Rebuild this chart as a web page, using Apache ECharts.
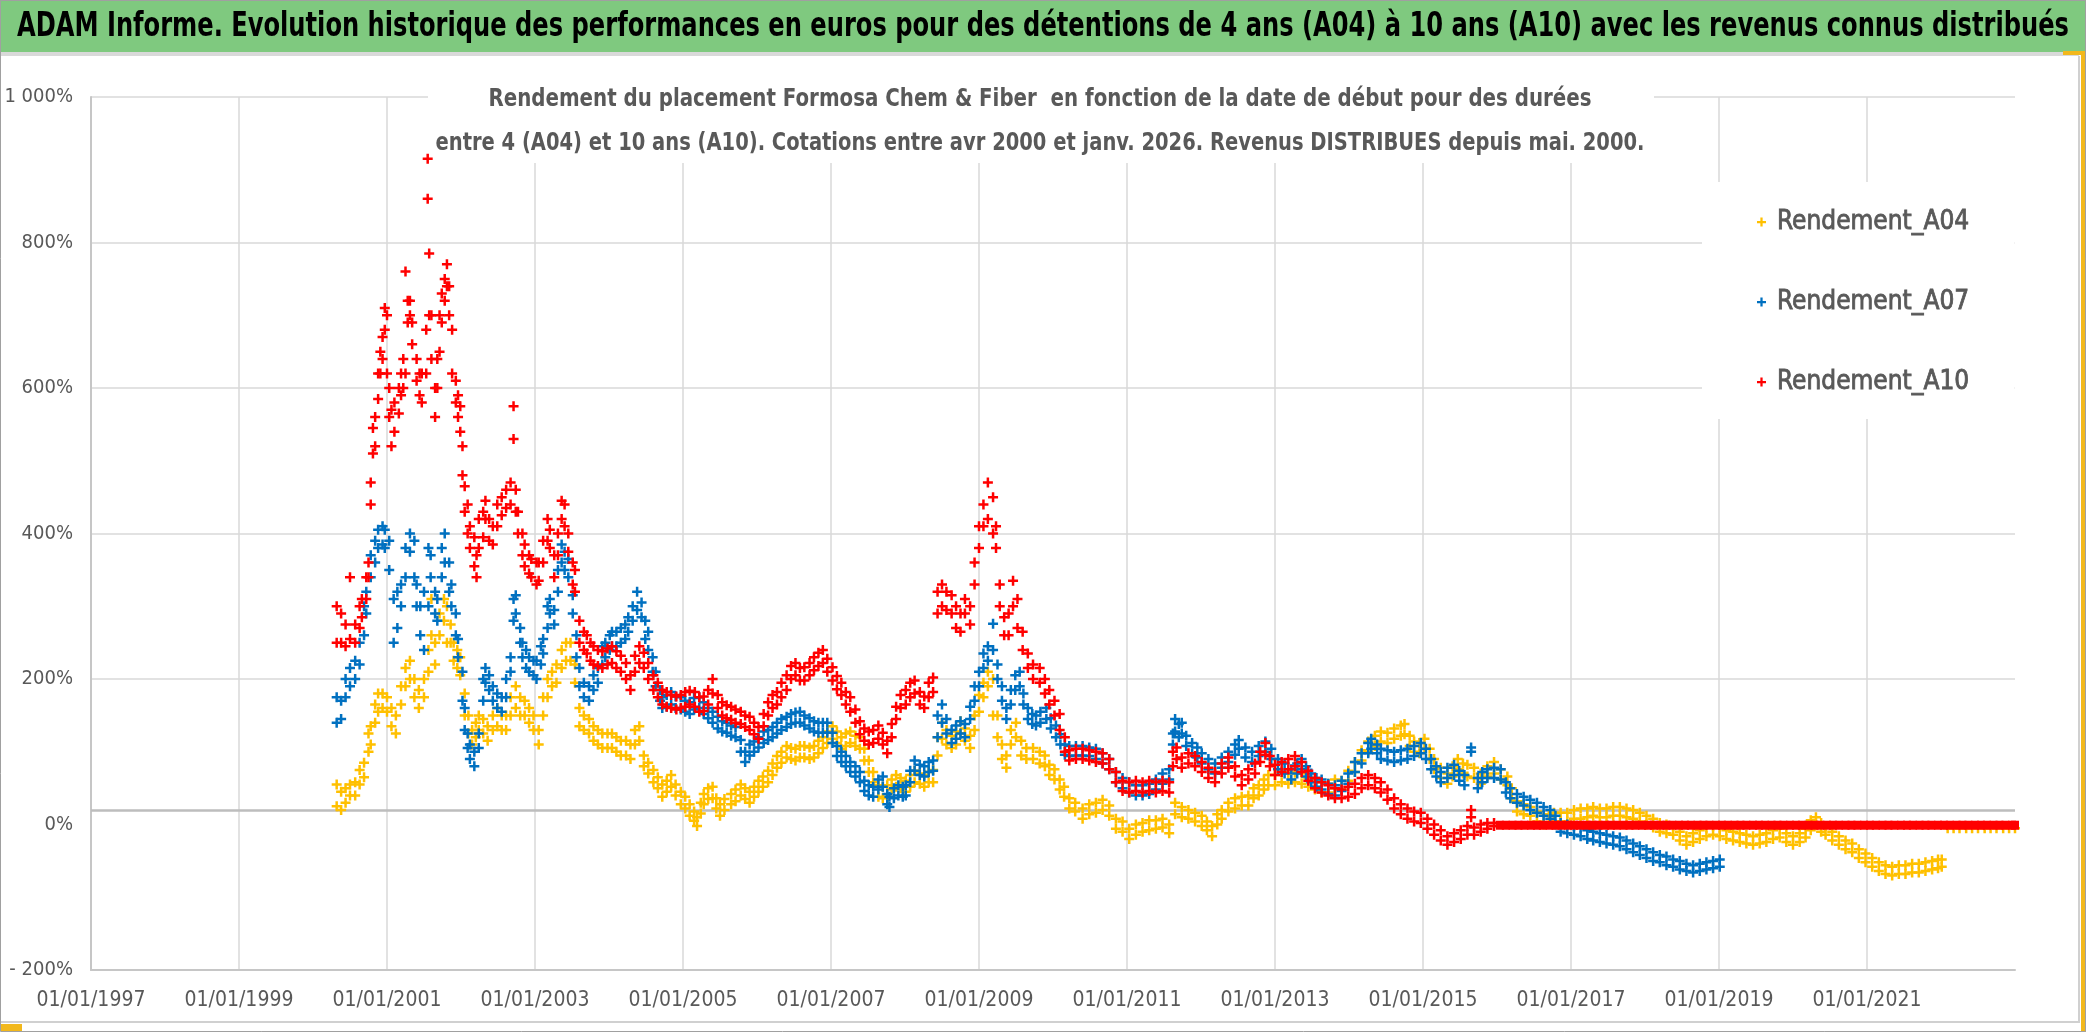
<!DOCTYPE html>
<html><head><meta charset="utf-8">
<script src="https://cdn.jsdelivr.net/npm/echarts@6/dist/echarts.min.js"></script>
<style>html,body{margin:0;padding:0;background:#fff;overflow:hidden}#chart{width:2086px;height:1032px}</style>
</head><body><div id="chart"></div>
<script>
// ---------- DATA ----------
const titleText = "ADAM Informe. Evolution historique des performances en euros pour des détentions de 4 ans (A04) à 10 ans (A10) avec les revenus connus distribués";
const subtitleLines = [
  "Rendement du placement Formosa Chem & Fiber  en fonction de la date de début pour des durées",
  "entre 4 (A04) et 10 ans (A10). Cotations entre avr 2000 et janv. 2026. Revenus DISTRIBUES depuis mai. 2000."
];
const seriesNames = ['Rendement_A04', 'Rendement_A07', 'Rendement_A10'];
const yearTicks = [1997, 2023, 2];      // x axis: min, max, step (years)
const pctTicks = [-200, 1000, 200];     // y axis: min, max, step (%)

// [year, low %, high %] : lower and upper edge of each point cloud
const a04Points = [
[2000.32,25,55],[2000.38,20,45],[2000.44,30,50],[2000.50,40,55],[2000.57,40,58],[2000.63,55,75],[2000.69,65,85],[2000.75,100,125],[2000.78,110,135],[2000.84,140,165],[2000.88,155,180],[2000.94,160,180],[2001.00,155,175],[2001.06,135,160],[2001.12,125,150],[2001.19,165,190],[2001.25,190,215],[2001.31,200,225],[2001.37,175,200],[2001.43,160,185],[2001.50,175,200],[2001.56,210,240],[2001.60,260,310],[2001.65,220,250],[2001.71,260,290],[2001.77,280,310],[2001.81,250,300],[2001.86,250,275],[2001.90,225,250],[2001.95,215,240],[2001.99,205,230],
[2002.05,150,180],[2002.10,125,150],[2002.15,110,130],[2002.20,120,140],[2002.24,130,150],[2002.30,125,145],[2002.36,115,135],[2002.43,130,150],[2002.49,135,160],[2002.55,130,150],[2002.61,130,150],[2002.67,150,175],[2002.74,160,190],[2002.80,150,175],[2002.86,150,170],[2002.92,140,160],[2002.98,130,150],
[2003.05,110,130],[2003.11,150,175],[2003.17,175,200],[2003.23,190,210],[2003.29,195,220],[2003.36,215,240],[2003.42,225,250],[2003.48,225,250],[2003.54,195,220],[2003.60,135,160],[2003.66,130,150],[2003.73,125,145],[2003.79,115,135],[2003.85,110,130],[2003.91,105,125],[2003.98,105,125],
[2004.04,105,125],[2004.10,100,120],[2004.16,95,115],[2004.23,95,115],[2004.29,90,110],[2004.35,110,130],[2004.41,115,135],[2004.47,80,95],[2004.53,70,85],[2004.60,58,75],[2004.66,50,65],[2004.72,38,55],[2004.78,45,60],[2004.84,52,68],[2004.90,40,55],[2004.97,28,45],
[2005.03,22,38],[2005.09,12,28],[2005.15,5,18],[2005.19,-2,10],[2005.24,15,30],[2005.28,28,42],[2005.34,35,50],[2005.40,36,52],[2005.45,22,36],[2005.50,12,28],[2005.56,20,35],[2005.65,28,42],[2005.71,32,48],[2005.78,40,55],[2005.84,35,50],[2005.90,30,45],[2005.96,38,52],
[2006.02,45,60],[2006.08,52,66],[2006.15,58,74],[2006.21,68,84],[2006.27,78,94],[2006.33,85,100],[2006.40,92,108],[2006.46,90,105],[2006.52,88,104],[2006.58,92,108],[2006.64,92,108],[2006.71,90,106],[2006.77,92,108],[2006.83,98,115],[2006.89,105,120],[2006.95,112,128],
[2007.02,118,135],[2007.08,112,128],[2007.14,104,120],[2007.20,108,125],[2007.26,112,128],[2007.33,108,122],[2007.39,104,120],[2007.45,88,104],[2007.51,72,88],[2007.57,58,72],[2007.64,38,54],[2007.70,36,52],[2007.76,38,54],[2007.82,48,62],[2007.88,52,68],[2007.94,50,64],
[2008.01,45,60],[2008.07,52,68],[2008.13,58,74],[2008.20,56,70],[2008.26,52,68],[2008.32,58,72],[2008.38,58,75],[2008.44,95,120],[2008.50,118,140],[2008.56,110,130],[2008.63,105,122],[2008.69,110,128],[2008.75,125,142],[2008.81,115,132],[2008.88,105,122],[2008.94,130,150],
[2009.00,155,178],[2009.06,175,195],[2009.12,190,210],[2009.19,150,200],[2009.25,120,150],[2009.31,90,110],[2009.37,78,95],[2009.43,110,130],[2009.50,120,140],[2009.57,95,115],[2009.64,90,105],[2009.73,90,105],[2009.82,84,100],[2009.89,80,95],[2009.95,68,82],
[2010.02,62,76],[2010.09,48,62],[2010.15,38,52],[2010.22,22,36],[2010.30,18,30],[2010.40,8,22],[2010.49,14,28],[2010.58,16,30],[2010.67,20,34],[2010.76,12,26],[2010.85,-6,8],[2010.94,-10,4],
[2011.03,-20,-6],[2011.12,-14,0],[2011.21,-10,2],[2011.30,-8,6],[2011.39,-6,6],[2011.48,-4,8],[2011.57,-12,0],[2011.65,14,30],[2011.74,10,24],[2011.83,8,20],[2011.92,4,16],
[2012.01,-2,12],[2012.08,-8,4],[2012.15,-16,-2],[2012.22,0,14],[2012.28,8,20],[2012.37,18,30],[2012.46,22,36],[2012.55,26,38],[2012.64,26,40],[2012.71,36,50],[2012.78,40,54],[2012.85,48,62],[2012.91,54,68],
[2013.00,54,68],[2013.09,58,72],[2013.18,56,70],[2013.27,58,72],[2013.36,56,70],[2013.45,52,64],[2013.54,48,62],[2013.63,44,58],[2013.72,44,56],[2013.81,50,62],[2013.90,48,60],[2013.99,60,74],
[2014.08,72,86],[2014.17,88,102],[2014.26,100,114],[2014.35,108,122],[2014.43,114,128],[2014.52,112,126],[2014.61,118,132],[2014.70,122,136],[2014.75,124,138],[2014.82,108,122],[2014.88,100,114],[2014.95,98,112],
[2015.02,104,118],[2015.09,90,104],[2015.15,76,90],[2015.24,64,78],[2015.33,56,70],[2015.40,66,80],[2015.47,76,90],[2015.54,70,84],[2015.60,66,82],[2015.69,64,78],[2015.78,56,70],[2015.87,66,80],[2015.96,70,86],
[2016.05,62,76],[2016.14,54,66],[2016.20,36,50],[2016.27,18,32],[2016.36,14,28],[2016.45,12,24],[2016.54,4,18],[2016.63,0,12],[2016.70,2,14],[2016.77,4,16],[2016.86,4,16],[2016.95,4,16],
[2017.04,8,20],[2017.13,8,22],[2017.22,10,22],[2017.30,12,24],[2017.39,10,22],[2017.48,10,22],[2017.57,12,24],[2017.66,12,24],[2017.75,10,22],[2017.84,8,20],[2017.93,4,16],
[2018.02,0,12],[2018.11,-4,8],[2018.20,-10,2],[2018.29,-12,0],[2018.38,-14,-2],[2018.47,-22,-10],[2018.56,-28,-16],[2018.65,-24,-12],[2018.74,-20,-8],[2018.83,-16,-4],[2018.92,-14,-2],
[2019.01,-16,-4],[2019.10,-20,-8],[2019.19,-22,-10],[2019.28,-24,-12],[2019.37,-26,-14],[2019.46,-28,-16],[2019.55,-26,-14],[2019.64,-24,-12],[2019.73,-20,-8],[2019.82,-18,-6],[2019.91,-24,-12],
[2020.00,-28,-16],[2020.09,-24,-12],[2020.17,-18,-6],[2020.24,-8,6],[2020.31,0,10],[2020.38,-10,2],[2020.44,-14,-2],[2020.53,-22,-10],[2020.62,-28,-16],[2020.71,-34,-22],[2020.80,-38,-26],[2020.89,-46,-34],[2020.98,-52,-40],
[2021.07,-58,-46],[2021.16,-64,-52],[2021.25,-68,-56],[2021.34,-70,-58],[2021.43,-68,-56],[2021.52,-68,-56],[2021.61,-66,-54],[2021.70,-66,-54],[2021.79,-64,-52],[2021.88,-62,-50],[2021.96,-60,-48],[2022.01,-58,-48]
];
const a04Tail = [[2022.09,-5],[2022.17,-5],[2022.25,-5],[2022.34,-5],[2022.42,-5],[2022.50,-5],[2022.59,-5],[2022.67,-5],[2022.75,-5],[2022.84,-5],[2022.92,-5],[2023.00,-5]];

const a07Points = [
[2000.32,140,175],[2000.38,145,170],[2000.44,175,200],[2000.50,190,215],[2000.57,200,225],[2000.63,220,250],[2000.69,260,300],[2000.72,290,320],[2000.78,340,370],[2000.84,360,390],[2000.88,380,405],[2000.94,385,410],[2000.97,380,405],
[2001.03,350,390],[2001.09,250,310],[2001.14,270,320],[2001.19,300,330],[2001.25,340,380],[2001.31,375,400],[2001.37,340,390],[2001.40,300,330],[2001.45,260,300],[2001.50,240,320],[2001.56,300,380],[2001.59,340,370],[2001.65,290,320],[2001.68,280,310],[2001.74,340,380],[2001.78,360,400],[2001.84,320,360],[2001.87,300,330],[2001.93,260,290],[2001.96,230,255],
[2002.02,170,210],[2002.05,130,160],[2002.09,105,125],[2002.12,90,110],[2002.18,80,100],[2002.24,105,125],[2002.30,170,200],[2002.33,195,215],[2002.38,185,205],[2002.43,170,190],[2002.49,160,180],[2002.55,155,175],[2002.61,175,200],[2002.67,210,230],[2002.71,280,310],[2002.74,290,315],[2002.80,250,270],[2002.83,230,250],[2002.88,215,240],[2002.92,210,230],[2002.98,205,225],
[2003.02,200,225],[2003.08,220,245],[2003.11,235,255],[2003.17,270,300],[2003.20,290,310],[2003.26,275,295],[2003.31,320,350],[2003.36,360,385],[2003.40,350,375],[2003.45,340,365],[2003.51,290,315],[2003.56,230,260],[2003.60,190,215],[2003.66,175,195],[2003.73,170,190],[2003.79,185,205],[2003.85,195,215],[2003.91,220,245],[2003.95,230,250],
[2004.01,240,260],[2004.04,245,265],[2004.10,245,265],[2004.16,250,270],[2004.22,255,275],[2004.26,265,285],[2004.32,280,300],[2004.38,295,320],[2004.44,285,305],[2004.49,255,280],[2004.53,240,265],[2004.59,210,230],[2004.63,190,210],[2004.69,170,185],[2004.72,160,175],[2004.78,162,178],[2004.84,165,182],[2004.90,160,176],[2004.97,158,175],
[2005.03,155,170],[2005.09,152,168],[2005.15,158,174],[2005.22,160,175],[2005.28,152,168],[2005.34,146,160],[2005.40,140,155],[2005.47,132,148],[2005.53,128,142],[2005.59,126,140],[2005.65,122,136],[2005.71,120,134],[2005.78,100,116],[2005.84,86,100],[2005.90,95,110],[2005.96,100,114],
[2006.02,106,120],[2006.09,112,128],[2006.15,116,130],[2006.21,120,134],[2006.27,125,140],[2006.33,130,145],[2006.40,134,148],[2006.46,138,152],[2006.52,140,154],[2006.58,140,155],[2006.64,136,150],[2006.71,132,146],[2006.77,128,142],[2006.83,126,140],[2006.89,126,140],[2006.95,126,140],
[2007.02,112,126],[2007.08,94,108],[2007.14,86,100],[2007.20,80,94],[2007.26,72,86],[2007.33,66,80],[2007.39,58,72],[2007.45,46,60],[2007.51,40,54],[2007.57,38,52],[2007.64,48,62],[2007.70,52,66],[2007.76,28,42],[2007.79,24,38],[2007.85,36,50],[2007.91,40,54],[2007.97,38,52],
[2008.01,40,54],[2008.07,58,74],[2008.13,74,88],[2008.20,68,82],[2008.26,66,80],[2008.32,72,86],[2008.38,74,88],[2008.44,120,150],[2008.50,140,165],[2008.56,125,145],[2008.63,112,130],[2008.69,118,136],[2008.75,125,142],[2008.81,120,138],[2008.88,145,162],[2008.94,170,190],
[2009.00,190,210],[2009.06,215,235],[2009.12,225,245],[2009.19,240,276],[2009.25,200,220],[2009.31,170,190],[2009.37,145,160],[2009.43,165,185],[2009.49,185,205],[2009.55,190,210],[2009.60,165,180],[2009.66,145,160],[2009.72,138,152],[2009.77,136,150],[2009.83,140,155],[2009.91,145,160],[2009.97,132,146],
[2010.04,120,136],[2010.10,110,124],[2010.16,96,110],[2010.22,94,108],[2010.31,95,108],[2010.40,95,108],[2010.49,94,106],[2010.58,90,104],[2010.67,84,98],[2010.76,76,90],[2010.85,58,72],[2010.94,50,64],
[2011.03,44,58],[2011.12,40,54],[2011.21,40,54],[2011.30,42,56],[2011.39,48,62],[2011.48,56,70],[2011.57,62,76],[2011.62,110,125],[2011.65,128,145],[2011.70,120,138],[2011.74,125,140],[2011.80,108,122],[2011.88,98,112],[2011.95,92,106],
[2012.01,84,98],[2012.10,76,90],[2012.19,70,84],[2012.28,78,92],[2012.37,86,100],[2012.46,96,110],[2012.51,104,116],[2012.60,92,106],[2012.69,86,100],[2012.78,94,108],[2012.87,100,114],[2012.95,90,104],
[2013.04,76,90],[2013.13,70,84],[2013.22,62,76],[2013.30,70,84],[2013.36,76,90],[2013.42,66,80],[2013.49,58,70],[2013.56,52,64],[2013.63,48,62],[2013.72,42,56],[2013.81,40,54],[2013.90,46,60],[2013.99,56,70],
[2014.08,72,86],[2014.17,84,98],[2014.26,98,112],[2014.30,104,118],[2014.38,98,110],[2014.43,90,104],[2014.52,88,102],[2014.61,86,100],[2014.70,88,102],[2014.79,90,104],[2014.88,94,108],[2014.97,98,112],
[2015.04,90,104],[2015.11,76,90],[2015.18,66,80],[2015.24,58,72],[2015.33,64,78],[2015.42,68,82],[2015.49,60,74],[2015.56,54,68],[2015.65,100,106],[2015.74,50,64],[2015.80,58,72],[2015.87,64,76],[2015.96,64,78],
[2016.05,62,76],[2016.12,44,58],[2016.18,36,50],[2016.27,30,42],[2016.36,26,38],[2016.45,20,34],[2016.54,16,30],[2016.63,12,24],[2016.72,8,20],[2016.79,0,12],[2016.86,-10,2],[2016.95,-12,0],
[2017.04,-14,-2],[2017.13,-16,-4],[2017.22,-20,-8],[2017.30,-22,-10],[2017.39,-24,-12],[2017.48,-26,-14],[2017.57,-28,-16],[2017.66,-30,-18],[2017.75,-34,-22],[2017.84,-38,-26],[2017.93,-42,-30],
[2018.02,-46,-34],[2018.11,-50,-38],[2018.20,-52,-42],[2018.29,-56,-44],[2018.38,-58,-48],[2018.47,-62,-50],[2018.56,-64,-54],[2018.65,-66,-56],[2018.74,-64,-54],[2018.83,-62,-52],[2018.92,-60,-50],[2019.01,-58,-48]
];

const a10Points = [
[2000.32,250,300],[2000.38,250,290],[2000.44,245,275],[2000.50,255,340],[2000.57,250,275],[2000.63,270,300],[2000.66,285,310],[2000.72,310,340],[2000.75,340,360],[2000.78,440,470],[2000.81,510,545],[2000.84,520,560],[2000.88,585,620],[2000.91,620,650],[2000.94,640,670],[2000.97,680,710],
[2001.00,620,700],[2001.03,560,600],[2001.06,520,570],[2001.10,540,580],[2001.16,565,600],[2001.19,590,620],[2001.22,600,640],[2001.25,620,760],[2001.28,690,720],[2001.31,700,720],[2001.34,660,690],[2001.40,610,640],[2001.44,590,620],[2001.47,580,620],[2001.53,620,680],[2001.55,860,915],[2001.57,700,785],[2001.60,640,700],[2001.65,560,600],[2001.68,600,640],[2001.71,650,700],[2001.74,690,730],[2001.78,720,750],[2001.81,740,770],[2001.84,700,740],[2001.88,620,680],[2001.93,580,610],[2001.96,560,590],[2001.99,540,575],
[2002.02,480,520],[2002.05,430,465],[2002.09,400,440],[2002.12,380,410],[2002.18,355,395],[2002.21,340,370],[2002.24,380,420],[2002.30,395,430],[2002.33,420,445],[2002.38,390,420],[2002.43,385,410],[2002.49,410,440],[2002.55,425,450],[2002.61,435,460],[2002.67,440,470],[2002.71,530,575],[2002.74,430,460],[2002.77,400,430],[2002.83,370,400],[2002.86,355,385],[2002.92,345,370],[2002.95,340,365],
[2003.02,330,360],[2003.05,335,360],[2003.11,360,390],[2003.17,390,420],[2003.20,380,405],[2003.26,340,370],[2003.31,370,400],[2003.36,420,445],[2003.40,410,440],[2003.45,375,400],[2003.51,330,360],[2003.54,320,350],[2003.60,250,280],[2003.66,240,265],[2003.70,235,260],[2003.75,225,250],[2003.79,220,245],[2003.85,218,240],[2003.91,215,238],[2003.98,220,242],
[2004.04,222,245],[2004.10,215,238],[2004.16,210,232],[2004.23,200,222],[2004.29,185,205],[2004.35,210,232],[2004.41,222,245],[2004.47,215,236],[2004.53,200,222],[2004.60,185,205],[2004.66,175,195],[2004.72,165,185],[2004.78,162,182],[2004.84,160,178],[2004.91,158,176],[2004.97,160,178],
[2005.03,162,182],[2005.09,165,184],[2005.16,162,182],[2005.22,155,175],[2005.28,156,176],[2005.34,165,185],[2005.40,180,200],[2005.47,160,178],[2005.53,150,168],[2005.59,146,164],[2005.65,144,162],[2005.71,140,158],[2005.78,138,155],[2005.84,134,150],[2005.90,130,148],[2005.96,124,140],
[2006.02,118,134],[2006.09,135,152],[2006.15,150,168],[2006.21,160,178],[2006.27,165,182],[2006.33,175,195],[2006.40,185,205],[2006.46,200,218],[2006.52,205,222],[2006.58,198,215],[2006.64,198,216],[2006.71,205,222],[2006.77,212,230],[2006.83,218,236],[2006.89,222,240],[2006.95,210,228],
[2007.02,198,216],[2007.08,186,204],[2007.14,178,195],[2007.20,165,182],[2007.26,155,175],[2007.33,140,158],[2007.39,124,142],[2007.45,115,132],[2007.51,110,128],[2007.57,112,130],[2007.64,118,136],[2007.70,110,126],[2007.76,98,115],[2007.82,120,138],[2007.88,145,162],[2007.94,160,178],
[2008.01,165,185],[2008.07,175,195],[2008.13,180,198],[2008.20,165,182],[2008.26,160,176],[2008.32,175,195],[2008.38,182,202],[2008.44,290,320],[2008.50,300,330],[2008.56,295,320],[2008.63,290,315],[2008.69,270,300],[2008.75,265,290],[2008.81,290,310],[2008.88,275,300],[2008.94,330,360],
[2009.00,380,410],[2009.06,410,440],[2009.12,420,470],[2009.19,400,450],[2009.23,380,410],[2009.28,300,330],[2009.34,260,285],[2009.40,260,290],[2009.46,300,335],[2009.52,270,310],[2009.59,240,265],[2009.66,215,235],[2009.73,200,220],[2009.82,195,215],[2009.89,180,200],[2009.95,165,185],
[2010.02,150,170],[2010.09,130,152],[2010.16,100,120],[2010.22,88,102],[2010.31,90,104],[2010.40,90,104],[2010.49,88,102],[2010.58,86,100],[2010.67,84,98],[2010.76,76,90],[2010.85,58,72],[2010.94,46,60],
[2011.03,44,58],[2011.12,46,60],[2011.21,44,58],[2011.30,46,60],[2011.39,44,58],[2011.48,46,60],[2011.57,44,58],[2011.62,80,100],[2011.67,90,106],[2011.74,78,92],[2011.83,84,98],[2011.92,80,94],
[2012.01,72,86],[2012.10,64,78],[2012.19,58,72],[2012.28,70,84],[2012.37,78,92],[2012.46,66,80],[2012.55,54,68],[2012.64,62,76],[2012.73,70,84],[2012.80,86,100],[2012.87,96,112],[2012.93,80,94],
[2013.00,68,82],[2013.09,72,86],[2013.18,76,90],[2013.27,80,94],[2013.36,72,86],[2013.45,60,74],[2013.54,50,64],[2013.63,44,58],[2013.72,40,54],[2013.81,36,50],[2013.90,36,48],[2013.99,38,52],
[2014.08,42,56],[2014.17,50,64],[2014.26,54,68],[2014.35,50,64],[2014.43,44,58],[2014.52,34,48],[2014.61,22,36],[2014.70,14,28],[2014.79,8,22],[2014.88,4,18],[2014.97,2,16],
[2015.06,-6,8],[2015.15,-14,0],[2015.24,-22,-8],[2015.33,-28,-16],[2015.42,-24,-12],[2015.51,-20,-8],[2015.60,-14,-2],[2015.65,10,20],[2015.69,-14,-4],[2015.78,-10,0],[2015.87,-6,2],[2015.96,-2,2]
];
const a10Tail = [
[2016.04,-1],[2016.12,-1],[2016.21,-1],[2016.29,-1],[2016.37,-1],[2016.46,-1],[2016.54,-1],[2016.62,-1],[2016.71,-1],[2016.79,-1],[2016.87,-1],[2016.96,-1],
[2017.04,-1],[2017.12,-1],[2017.21,-1],[2017.29,-1],[2017.37,-1],[2017.46,-1],[2017.54,-1],[2017.62,-1],[2017.71,-1],[2017.79,-1],[2017.87,-1],[2017.96,-1],
[2018.04,-1],[2018.12,-1],[2018.21,-1],[2018.29,-1],[2018.37,-1],[2018.46,-1],[2018.54,-1],[2018.62,-1],[2018.71,-1],[2018.79,-1],[2018.87,-1],[2018.96,-1],
[2019.04,-1],[2019.12,-1],[2019.21,-1],[2019.29,-1],[2019.37,-1],[2019.46,-1],[2019.54,-1],[2019.62,-1],[2019.71,-1],[2019.79,-1],[2019.87,-1],[2019.96,-1],
[2020.04,-1],[2020.12,-1],[2020.21,-1],[2020.29,-1],[2020.37,-1],[2020.46,-1],[2020.54,-1],[2020.62,-1],[2020.71,-1],[2020.79,-1],[2020.87,-1],[2020.96,-1],
[2021.04,-1],[2021.12,-1],[2021.21,-1],[2021.29,-1],[2021.37,-1],[2021.46,-1],[2021.54,-1],[2021.62,-1],[2021.71,-1],[2021.79,-1],[2021.87,-1],[2021.96,-1],
[2022.04,-1],[2022.12,-1],[2022.21,-1],[2022.29,-1],[2022.37,-1],[2022.46,-1],[2022.54,-1],[2022.62,-1],[2022.71,-1],[2022.79,-1],[2022.87,-1],[2022.96,-1],[2023.00,-1]
];

// ---------- STYLE ----------
const COLORS = ['#FFC000', '#0070C0', '#FF0000'];
const NARROW = "'Liberation Sans Narrow','Arial Narrow','DejaVu Sans Condensed',sans-serif";
const GREY_TXT = '#595959';
const PLUS = 'path://M3.75,0H6.25V3.75H10V6.25H6.25V10H3.75V6.25H0V3.75H3.75Z';

// The flat stretch is drawn as a dense run of overlapping markers (merged block)
function expand(points, tail, tailDense) {
  const out = [];
  points.forEach(p => { out.push([p[0], p[1]]); if (p.length > 2 && p[2] !== p[1]) out.push([p[0], p[2]]); });
  (tail || []).forEach(p => {
    if (tailDense) out.push({ value: [p[0], p[1]], symbol: 'rect', symbolSize: [8, 9] });
    else out.push([p[0], p[1]]);
  });
  return out;
}
const measureCtx = document.createElement('canvas').getContext('2d');
function fitScale(text, font, target) {
  measureCtx.font = font;
  return target / measureCtx.measureText(text).width;
}
function textEl(text, x, y, font, fill, targetW, z) {
  return {
    type: 'text', x: x, y: y, z: z, silent: true,
    scaleX: fitScale(text, font, targetW), scaleY: 1,
    style: { text: text, font: font, fill: fill, x: 0, y: 0,
             align: 'center', verticalAlign: 'middle', textAlign: 'center', textVerticalAlign: 'middle' }
  };
}
const titleFont = 'bold 34px ' + NARROW;
const subFont = 'bold 25px ' + NARROW;

const chart = echarts.init(document.getElementById('chart'), null, { renderer: 'canvas' });

const gridColor = '#D9D9D9';
const ySplitColors = [gridColor, 'rgba(0,0,0,0)', gridColor, gridColor, gridColor, gridColor, gridColor];

const seriesData = [expand(a04Points, a04Tail, false), expand(a07Points), expand(a10Points, a10Tail, true)];

const option = {
  backgroundColor: '#ffffff',
  animation: false,
  grid: { left: 91, right: 71, top: 97, bottom: 62, containLabel: false },
  xAxis: {
    type: 'value', min: yearTicks[0], max: yearTicks[1], interval: yearTicks[2],
    axisLine: { show: true, onZero: false, lineStyle: { color: '#C6C6C6', width: 2 } },
    axisTick: { show: false },
    axisLabel: { color: GREY_TXT, fontFamily: NARROW, fontSize: 21, margin: 20, showMaxLabel: false,
                 formatter: v => '01/01/' + Math.round(v) },
    splitLine: { show: true, showMinLine: false, showMaxLine: false, lineStyle: { color: gridColor, width: 1.5 } }
  },
  yAxis: {
    type: 'value', min: pctTicks[0], max: pctTicks[1], interval: pctTicks[2],
    axisLine: { show: true, lineStyle: { color: '#C6C6C6', width: 2 } },
    axisTick: { show: false },
    axisLabel: { color: GREY_TXT, fontFamily: NARROW, fontSize: 20, margin: 18,
                 formatter: v => {
                   const a = Math.abs(v);
                   const s = a >= 1000 ? Math.floor(a / 1000) + '\u00a0' + String(a % 1000).padStart(3, '0') : String(a);
                   return (v < 0 ? '-\u00a0' : '') + s + '%';
                 } },
    splitLine: { show: true, showMinLine: true, showMaxLine: true, lineStyle: { color: ySplitColors, width: 1.5 } }
  },
  legend: {
    orient: 'vertical', left: 1702, top: 182,
    padding: [25, 45, 22, 55], itemGap: 50, itemWidth: 9, itemHeight: 9,
    backgroundColor: '#ffffff', selectedMode: false,
    data: seriesNames.map(n => ({ name: n, icon: PLUS })),
    textStyle: { color: GREY_TXT, fontFamily: NARROW, fontSize: 26, fontWeight: 'normal', lineHeight: 30,
                 textBorderColor: GREY_TXT, textBorderWidth: 0.8, padding: [0, 0, 0, 6] }
  },
  series: seriesNames.map((name, i) => {
    const s = {
      name: name, type: 'scatter', data: seriesData[i],
      symbol: PLUS, symbolSize: 10, z: 2,
      itemStyle: { color: COLORS[i], opacity: 1 },
      emphasis: { disabled: true }, silent: true, large: false
    };
    if (i === 0) {
      s.markLine = {
        silent: true, symbol: 'none', z: 1, animation: false,
        label: { show: false },
        lineStyle: { color: '#BDBDBD', width: 2.5, type: 'solid' },
        data: [{ yAxis: 19 }]
      };
    }
    return s;
  }),
  graphic: [
    { type: 'rect', z: 0, silent: true, shape: { x: 0, y: 0, width: 2086, height: 52 }, style: { fill: '#7FC97F' } },
    { type: 'rect', z: 0, silent: true, shape: { x: 0, y: 52, width: 2079, height: 4 }, style: { fill: '#D9D9D9' } },
    { type: 'rect', z: 1, silent: true, shape: { x: 428, y: 60, width: 1226, height: 103 }, style: { fill: '#ffffff' } },
    textEl(titleText, 1043, 27, titleFont, '#000000', 2052, 10),
    textEl(subtitleLines[0], 1040, 99, subFont, GREY_TXT, 1103, 10),
    textEl(subtitleLines[1], 1040, 143, subFont, GREY_TXT, 1209, 10),
    { type: 'rect', z: 0, silent: true, shape: { x: 2078, y: 56, width: 2, height: 966 }, style: { fill: '#D0D0D0' } },
    { type: 'rect', z: 0, silent: true, shape: { x: 0, y: 1021, width: 2080, height: 2 }, style: { fill: '#D0D0D0' } },
    { type: 'rect', z: 0, silent: true, shape: { x: 2081, y: 52, width: 5, height: 980 }, style: { fill: '#F2B81C' } },
    { type: 'rect', z: 0, silent: true, shape: { x: 2063, y: 51, width: 23, height: 4 }, style: { fill: '#F2B81C' } },
    { type: 'rect', z: 0, silent: true, shape: { x: 0, y: 1024, width: 22, height: 7 }, style: { fill: '#F2B81C' } },
    { type: 'rect', z: 0, silent: true, shape: { x: 0.5, y: 0.5, width: 2085, height: 1031 }, style: { fill: 'none', stroke: '#A0A0A0', lineWidth: 1 } }
  ]
};
chart.setOption(option);
</script></body></html>
